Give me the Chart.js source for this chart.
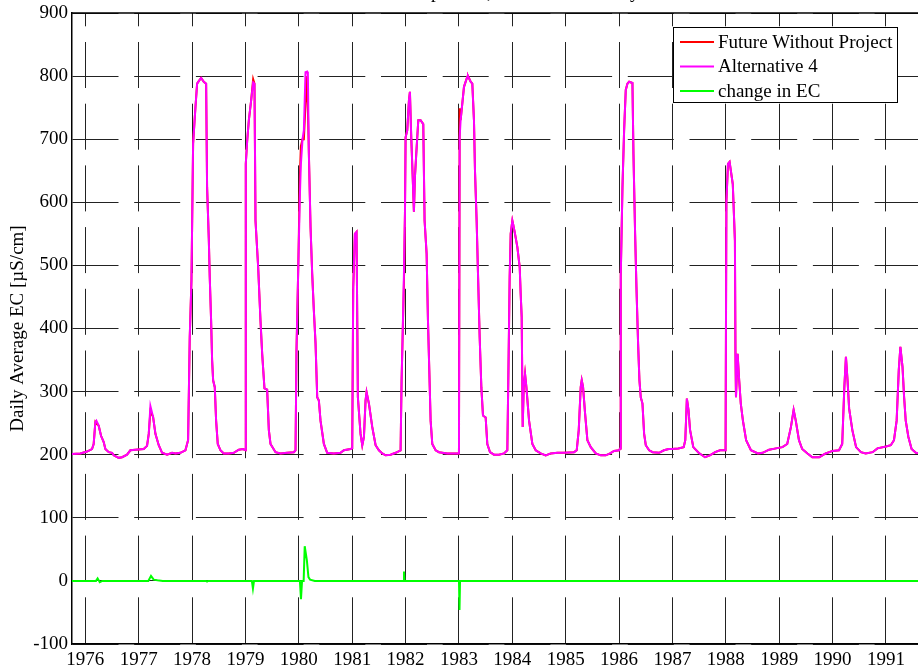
<!DOCTYPE html>
<html>
<head>
<meta charset="utf-8">
<script src="https://cdn.jsdelivr.net/npm/chart.js@4/dist/chart.umd.min.js"></script>
<style>
    html, body { margin: 0; padding: 0; background: #fff; overflow: hidden; width: 918px; height: 672px; }
    #wrap { position: absolute; left: 0; top: -20px; width: 940px; height: 700px; }
</style>
</head>
<body>
<div id="wrap"><canvas id="ecChart" width="940" height="700"></canvas></div>
<script>
// Dữ liệu (năm thập phân)
const years = [
    1975.75, 1975.906, 1976.031, 1976.125, 1976.156, 1976.188, 1976.206, 1976.25, 1976.294, 1976.344,
    1976.375, 1976.438, 1976.5, 1976.531, 1976.625, 1976.688, 1976.781, 1976.844, 1976.938, 1977.094,
    1977.156, 1977.188, 1977.219, 1977.269, 1977.313, 1977.375, 1977.438, 1977.531, 1977.625, 1977.688,
    1977.781, 1977.875, 1977.925, 1977.956, 1977.988, 1978.019, 1978.063, 1978.094, 1978.125, 1978.169,
    1978.219, 1978.263, 1978.281, 1978.313, 1978.331, 1978.356, 1978.375, 1978.394, 1978.425, 1978.45,
    1978.481, 1978.531, 1978.594, 1978.688, 1978.781, 1978.875, 1978.956, 1979.0, 1979.006, 1979.031,
    1979.063, 1979.106, 1979.144, 1979.169, 1979.188, 1979.238, 1979.281, 1979.313, 1979.356, 1979.406,
    1979.438, 1979.469, 1979.563, 1979.656, 1979.781, 1979.906, 1979.938, 1979.956, 1979.988, 1980.019,
    1980.038, 1980.069, 1980.094, 1980.125, 1980.156, 1980.169, 1980.188, 1980.219, 1980.25, 1980.281,
    1980.313, 1980.344, 1980.375, 1980.406, 1980.469, 1980.531, 1980.656, 1980.781, 1980.844, 1980.969,
    1981.0, 1981.019, 1981.05, 1981.081, 1981.106, 1981.156, 1981.188, 1981.219, 1981.25, 1981.269,
    1981.313, 1981.375, 1981.438, 1981.5, 1981.563, 1981.625, 1981.719, 1981.813, 1981.906, 1981.925,
    1981.944, 1981.969, 1981.988, 1982.0, 1982.031, 1982.063, 1982.081, 1982.106, 1982.131, 1982.156,
    1982.175, 1982.2, 1982.238, 1982.281, 1982.331, 1982.356, 1982.394, 1982.419, 1982.444, 1982.469,
    1982.5, 1982.563, 1982.625, 1982.781, 1983.0, 1983.013, 1983.031, 1983.094, 1983.156, 1983.169,
    1983.219, 1983.25, 1983.281, 1983.3, 1983.331, 1983.363, 1983.388, 1983.419, 1983.45, 1983.5,
    1983.531, 1983.581, 1983.656, 1983.75, 1983.844, 1983.906, 1983.931, 1983.95, 1983.969, 1984.0,
    1984.013, 1984.05, 1984.094, 1984.138, 1984.156, 1984.175, 1984.194, 1984.213, 1984.238, 1984.263,
    1984.313, 1984.375, 1984.438, 1984.531, 1984.625, 1984.719, 1984.844, 1984.969, 1985.156, 1985.206,
    1985.244, 1985.281, 1985.3, 1985.325, 1985.363, 1985.406, 1985.469, 1985.563, 1985.656, 1985.75,
    1985.831, 1985.906, 1986.0, 1986.019, 1986.031, 1986.063, 1986.094, 1986.125, 1986.156, 1986.188,
    1986.25, 1986.269, 1986.3, 1986.325, 1986.356, 1986.381, 1986.406, 1986.438, 1986.469, 1986.5,
    1986.563, 1986.63, 1986.75, 1986.84, 1986.93, 1986.99, 1987.11, 1987.21, 1987.24, 1987.27,
    1987.30, 1987.33, 1987.39, 1987.49, 1987.61, 1987.70, 1987.80, 1987.89, 1987.98, 1987.995,
    1988.01, 1988.04, 1988.07, 1988.13, 1988.17, 1988.18, 1988.19, 1988.22, 1988.25, 1988.28,
    1988.32, 1988.38, 1988.47, 1988.60, 1988.69, 1988.81, 1988.94, 1989.06, 1989.15, 1989.22,
    1989.27, 1989.31, 1989.37, 1989.43, 1989.53, 1989.62, 1989.75, 1989.87, 1990.0, 1990.12,
    1990.18, 1990.22, 1990.25, 1990.28, 1990.31, 1990.37, 1990.44, 1990.53, 1990.62, 1990.75,
    1990.84, 1991.0, 1991.09, 1991.15, 1991.20, 1991.24, 1991.27, 1991.31, 1991.34, 1991.37,
    1991.42, 1991.48, 1991.56, 1991.75
];

// Future Without Project (đỏ)
const futureWithoutProject = [
    201, 202, 205, 209, 217, 252, 250, 246, 230, 220,
    209, 204, 203, 199, 195, 196, 200, 207, 208, 209,
    214, 233, 269, 260, 233, 215, 203, 200, 203, 202,
    203, 207, 223, 386, 476, 693, 751, 788, 792, 797,
    791, 788, 624, 542, 481, 413, 350, 318, 307, 254,
    217, 207, 202, 202, 203, 208, 209, 207, 661, 696,
    730, 761, 795, 788, 571, 497, 413, 360, 305, 303,
    239, 217, 204, 202, 203, 204, 207, 365, 492, 640,
    689, 700, 700, 755, 800, 800, 677, 561, 487, 429,
    376, 291, 286, 254, 217, 203, 202, 203, 207, 209,
    210, 466, 550, 553, 291, 233, 215, 228, 286, 299,
    281, 244, 215, 207, 202, 199, 200, 203, 207, 318,
    386, 472, 582, 703, 714, 762, 775, 703, 645, 585,
    640, 677, 730, 730, 724, 571, 518, 413, 334, 254,
    217, 207, 204, 202, 202, 749, 730, 783, 799, 800,
    791, 788, 730, 650, 571, 466, 386, 307, 262, 259,
    217, 204, 200, 200, 202, 207, 360, 482, 550, 571,
    566, 550, 529, 497, 455, 418, 244, 307, 328, 307,
    254, 217, 207, 202, 199, 202, 203, 203, 204, 207,
    239, 307, 318, 307, 265, 223, 212, 202, 199, 199,
    202, 206, 207, 210, 482, 624, 714, 778, 788, 791,
    789, 677, 550, 466, 376, 318, 291, 281, 233, 215,
    207, 204, 203, 207, 209, 209, 210, 212, 223, 289,
    271, 239, 212, 203, 196, 199, 204, 207, 207, 207,
    600, 661, 664, 629, 539, 360, 291, 360, 318, 281,
    254, 223, 207, 202, 203, 208, 210, 212, 217, 244,
    271, 254, 223, 209, 202, 196, 196, 202, 206, 207,
    217, 307, 355, 318, 273, 239, 212, 204, 202, 204,
    210, 213, 215, 223, 254, 334, 371, 339, 291, 254,
    228, 209, 203, 202
];

// Alternative 4 (hồng)
const alternative4 = [
    201, 202, 205, 209, 217, 252, 254, 246, 230, 220,
    209, 204, 203, 199, 195, 196, 200, 207, 208, 209,
    214, 233, 277, 260, 233, 215, 203, 200, 203, 202,
    203, 207, 223, 386, 476, 693, 751, 788, 792, 797,
    791, 788, 624, 542, 481, 413, 350, 318, 307, 254,
    217, 207, 202, 202, 203, 208, 209, 207, 661, 696,
    730, 761, 790, 788, 571, 497, 413, 360, 305, 303,
    239, 217, 204, 202, 203, 204, 207, 365, 492, 610,
    660, 700, 714, 806, 807, 803, 677, 561, 487, 429,
    376, 291, 286, 254, 217, 203, 202, 203, 207, 209,
    210, 466, 550, 553, 291, 233, 215, 228, 286, 299,
    281, 244, 215, 207, 202, 199, 200, 203, 207, 318,
    386, 487, 582, 703, 714, 762, 775, 703, 645, 585,
    640, 677, 730, 730, 724, 571, 518, 413, 334, 254,
    217, 207, 204, 202, 202, 703, 730, 783, 799, 800,
    791, 788, 730, 650, 571, 466, 386, 307, 262, 259,
    217, 204, 200, 200, 202, 207, 360, 482, 550, 571,
    566, 550, 529, 497, 455, 418, 244, 307, 328, 307,
    254, 217, 207, 202, 199, 202, 203, 203, 204, 207,
    239, 307, 318, 307, 265, 223, 212, 202, 199, 199,
    202, 206, 207, 210, 482, 624, 714, 778, 788, 791,
    789, 677, 550, 466, 376, 318, 291, 281, 233, 215,
    207, 204, 203, 207, 209, 209, 210, 212, 223, 289,
    271, 239, 212, 203, 196, 199, 204, 207, 207, 207,
    600, 661, 664, 629, 539, 360, 291, 360, 318, 281,
    254, 223, 207, 202, 203, 208, 210, 212, 217, 244,
    271, 254, 223, 209, 202, 196, 196, 202, 206, 207,
    217, 307, 355, 318, 273, 239, 212, 204, 202, 204,
    210, 213, 215, 223, 254, 334, 371, 339, 291, 254,
    228, 209, 203, 202
];

// change in EC (xanh lá)
const changeYears = [
    1975.75, 1976.2, 1976.23, 1976.27, 1976.32, 1977.18, 1977.23, 1977.28, 1977.35, 1977.45,
    1978.26, 1978.28, 1978.3, 1979.12, 1979.14, 1979.16, 1980.02, 1980.04, 1980.06, 1980.09,
    1980.11, 1980.15, 1980.18, 1980.21, 1980.3, 1981.96, 1981.97, 1981.98, 1983.0, 1983.01,
    1983.02, 1991.75
];
const changeInEC = [
    0, 0, 4, -2, 0, 0, 8, 2, 1, 0,
    0, -1, 0, 0, -12, 0, 0, -29, 0, 0,
    55, 33, 6, 2, 0, 0, 15, 0, 0, -46,
    0, 0
];

const seriesLabels = ["Future Without Project", "Alternative 4", "change in EC"];
const seriesColors = ["#ff0000", "#ff00ff", "#00ff00"];
const tickYears = [1976, 1977, 1978, 1979, 1980, 1981, 1982, 1983, 1984, 1985, 1986, 1987, 1988, 1989, 1990, 1991];
const titleText = "Emmaton EC Comparison, Sacramento Valley";
const yTitle = "Daily Average EC [\u00b5S/cm]";

const FONT = "'Liberation Serif', 'Times New Roman', serif";
const gridDash = [46, 15.7];

const toPoints = (xs, ys) => xs.map((x, i) => ({ x: x, y: ys[i] }));

// Khung trên + chú thích kiểu MATLAB
const matlabBox = {
    id: "matlabBox",
    afterDraw(chart) {
        const ctx = chart.ctx;
        const a = chart.chartArea;
        ctx.save();
        ctx.strokeStyle = "#000";
        ctx.lineWidth = 1.5;
        ctx.beginPath();
        ctx.moveTo(a.left, a.top);
        ctx.lineTo(a.right, a.top);
        ctx.stroke();

        // legend
        const bx = a.right - 253, by = a.top + 14, bw = 224, bh = 75;
        ctx.fillStyle = "#fff";
        ctx.fillRect(bx, by, bw, bh);
        ctx.lineWidth = 1;
        ctx.strokeRect(bx + 0.5, by + 0.5, bw, bh);
        ctx.font = "19px " + FONT;
        ctx.textBaseline = "middle";
        ctx.textAlign = "left";
        seriesLabels.forEach((lab, i) => {
            const yy = by + 15 + i * 24.5;
            ctx.strokeStyle = seriesColors[i];
            ctx.lineWidth = 2;
            ctx.beginPath();
            ctx.moveTo(bx + 7, yy);
            ctx.lineTo(bx + 41, yy);
            ctx.stroke();
            ctx.fillStyle = "#000";
            ctx.fillText(lab, bx + 45, yy + 1);
        });
        ctx.restore();
    }
};

new Chart(document.getElementById("ecChart").getContext("2d"), {
    type: "line",
    data: {
        datasets: [
            {
                label: seriesLabels[0],
                data: toPoints(years, futureWithoutProject),
                borderColor: seriesColors[0],
                borderWidth: 2,
                pointRadius: 0,
                order: 3
            },
            {
                label: seriesLabels[1],
                data: toPoints(years, alternative4),
                borderColor: seriesColors[1],
                borderWidth: 2,
                pointRadius: 0,
                order: 2
            },
            {
                label: seriesLabels[2],
                data: toPoints(changeYears, changeInEC),
                borderColor: seriesColors[2],
                borderWidth: 2,
                pointRadius: 0,
                order: 1
            }
        ]
    },
    options: {
        responsive: false,
        animation: false,
        layout: { padding: { left: 0, right: 14, top: 0, bottom: 0 } },
        plugins: {
            legend: { display: false },
            tooltip: { enabled: false },
            title: {
                display: true,
                text: titleText,
                color: "#000",
                font: { family: FONT, size: 19, weight: "normal" },
                padding: { top: 2, bottom: 8.2 }
            }
        },
        scales: {
            x: {
                type: "linear",
                min: 1975.75,
                max: 1991.75,
                afterBuildTicks: s => { s.ticks = tickYears.map(v => ({ value: v })); },
                afterFit: s => { s.height = 36; },
                ticks: {
                    callback: v => String(v),
                    color: "#000",
                    font: { family: FONT, size: 19 },
                    padding: 5,
                    maxRotation: 0,
                    autoSkip: false
                },
                grid: { color: "#222", lineWidth: 1, drawTicks: false },
                border: { display: true, color: "#000", width: 1.5, dash: gridDash, dashOffset: 32.7 }
            },
            y: {
                min: -100,
                max: 900,
                afterFit: s => { s.width = 72; },
                ticks: {
                    stepSize: 100,
                    color: "#000",
                    font: { family: FONT, size: 19 },
                    padding: 4
                },
                grid: { color: "#222", lineWidth: 1, drawTicks: false },
                border: { display: true, color: "#000", width: 1.5, dash: gridDash, dashOffset: 0 },
                title: {
                    display: true,
                    text: yTitle,
                    color: "#000",
                    font: { family: FONT, size: 19 },
                    padding: { top: 6.6, bottom: 0 }
                }
            }
        }
    },
    plugins: [matlabBox]
});
</script>
</body>
</html>
